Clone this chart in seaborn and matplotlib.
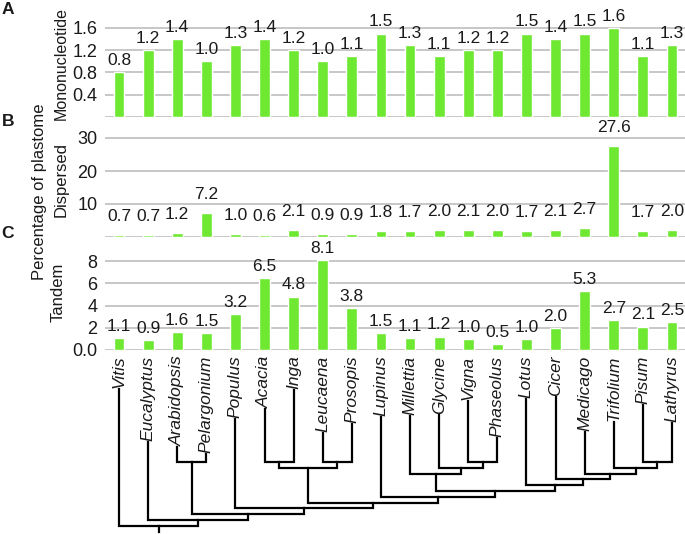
import matplotlib
matplotlib.use("Agg")
import matplotlib.pyplot as plt
import numpy as np
import pandas as pd
import seaborn as sns

# ---------------- data ----------------
taxa = ["Vitis", "Eucalyptus", "Arabidopsis", "Pelargonium", "Populus", "Acacia",
        "Inga", "Leucaena", "Prosopis", "Lupinus", "Millettia", "Glycine", "Vigna",
        "Phaseolus", "Lotus", "Cicer", "Medicago", "Trifolium", "Pisum", "Lathyrus"]
mononucleotide = [0.8, 1.2, 1.4, 1.0, 1.3, 1.4, 1.2, 1.0, 1.1, 1.5,
                  1.3, 1.1, 1.2, 1.2, 1.5, 1.4, 1.5, 1.6, 1.1, 1.3]
dispersed = [0.7, 0.7, 1.2, 7.2, 1.0, 0.6, 2.1, 0.9, 0.9, 1.8,
             1.7, 2.0, 2.1, 2.0, 1.7, 2.1, 2.7, 27.6, 1.7, 2.0]
tandem = [1.1, 0.9, 1.6, 1.5, 3.2, 6.5, 4.8, 8.1, 3.8, 1.5,
          1.1, 1.2, 1.0, 0.5, 1.0, 2.0, 5.3, 2.7, 2.1, 2.5]

ticks_a = [0, 0.4, 0.8, 1.2, 1.6]
ticklabels_a = ["", "0.4", "0.8", "1.2", "1.6"]
ticks_b = [0, 10, 20, 30]
ticklabels_b = ["", "10", "20", "30"]
ticks_c = [0, 2, 4, 6, 8]
ticklabels_c = ["0.0", "2", "4", "6", "8"]

# tree topology (cladogram)
papil_a = ("Millettia", ("Glycine", ("Vigna", "Phaseolus")))
papil_b = ("Lotus", ("Cicer", ("Medicago", ("Trifolium", ("Pisum", "Lathyrus")))))
papil = ("Lupinus", (papil_a, papil_b))
mimo = (("Acacia", "Inga"), ("Leucaena", "Prosopis"))
tree = ("Vitis", ("Eucalyptus", (("Arabidopsis", "Pelargonium"), ("Populus", (mimo, papil)))))

df = pd.DataFrame({"taxon": taxa, "Mononucleotide": mononucleotide,
                   "Dispersed": dispersed, "Tandem": tandem})

# ---------------- style ----------------
sns.set_style("white")
plt.rcParams["font.family"] = ["Liberation Sans", "DejaVu Sans"]
GREEN = "#6ee831"
GRID = "#bdbdbd"
TXT = "#1a1a1a"

W, H = 685, 534
fig = plt.figure(figsize=(W / 100, H / 100), dpi=100)
L = 104.5 / W
AW = 582 / W


def add_panel(zero_px, px_per_unit, ymax):
    bottom = (H - zero_px) / H
    height = ymax * px_per_unit / H
    ax = fig.add_axes([L, bottom, AW, height])
    ax.set_ylim(0, ymax)
    return ax


panels = [
    ("Mononucleotide", add_panel(117, 89 / 1.6, 1.7), ticks_a, ticklabels_a, 3),
    ("Dispersed", add_panel(237, 99 / 30, 31), ticks_b, ticklabels_b, 8),
    ("Tandem", add_panel(350, 89 / 8, 8.4), ticks_c, ticklabels_c, 3),
]

for i, (col, ax, ticks, tlabels, pad) in enumerate(panels):
    ymax = ax.get_ylim()[1]
    sns.barplot(data=df, x="taxon", y=col, color=GREEN, width=0.37,
                errorbar=None, saturation=1, ax=ax)
    ax.set_ylim(0, ymax)
    ax.set_xlim(-0.5, len(taxa) - 0.5)
    ax.set_yticks(ticks)
    ax.set_yticklabels(tlabels)
    ax.yaxis.grid(True, color=GRID, lw=1.2)
    ax.set_axisbelow(True)
    sns.despine(ax=ax, left=True, bottom=True)
    ax.tick_params(axis="y", length=0, pad=5, labelsize=13, labelcolor=TXT)
    ax.set_xlabel("")
    ax.set_ylabel("")
    vals = df[col].tolist()
    ax.bar_label(ax.containers[0], labels=[f"{v:.1f}" for v in vals],
                 padding=pad, fontsize=12.5, color=TXT)
    if i < 2:
        ax.tick_params(axis="x", length=0, labelbottom=False)
    else:
        ax.set_xticks(range(len(taxa)))
        ax.set_xticklabels(taxa, rotation=90, style="italic", fontsize=12.5,
                           color=TXT)
        ax.tick_params(axis="x", length=0, pad=4)
axC = panels[2][1]

# axis titles and panel letters
fig.text(61 / W, 1 - 63 / H, "Mononucleotide", rotation=90, ha="center",
         va="center", fontsize=11.5, color=TXT)
fig.text(61 / W, 1 - 180 / H, "Dispersed", rotation=90, ha="center",
         va="center", fontsize=12, color=TXT)
fig.text(58 / W, 1 - 292 / H, "Tandem", rotation=90, ha="center",
         va="center", fontsize=12, color=TXT)
fig.text(40 / W, 1 - 192 / H, "Percentage of plastome", rotation=90,
         ha="center", va="center", fontsize=12, color=TXT)
for letter, ypx in [("A", 10), ("B", 121), ("C", 234)]:
    fig.text(8 / W, 1 - ypx / H, letter, ha="center", va="center",
             fontsize=12.5, fontweight="bold", color=TXT)

# ---------------- tree ----------------
ax_t = fig.add_axes([L, 0, AW, 350 / H])
ax_t.set_xlim(-0.5, len(taxa) - 0.5)
ax_t.set_ylim(H, H - 350)
ax_t.axis("off")

fig.canvas.draw()
renderer = fig.canvas.get_renderer()
inv = ax_t.transData.inverted()
leaf_top = {}
for lbl in axC.get_xticklabels():
    bb = lbl.get_window_extent(renderer)
    leaf_top[lbl.get_text()] = inv.transform((bb.x0, bb.y0))[1] + 1

BASE, STEP = 462, 5.8


def depth(node):
    if isinstance(node, str):
        return 0
    return 1 + max(depth(c) for c in node)


def draw(node):
    if isinstance(node, str):
        return taxa.index(node), leaf_top[node]
    (xl, yl), (xr, yr) = draw(node[0]), draw(node[1])
    y = BASE + (depth(node) - 1) * STEP
    ax_t.plot([xl, xl, xr, xr], [yl, y, y, yr], color="black", lw=1.6,
              solid_joinstyle="miter", solid_capstyle="projecting")
    return (xl + xr) / 2, y


rx, ry = draw(tree)
ax_t.plot([rx, rx], [ry, ry + 6], color="black", lw=1.6,
          solid_capstyle="projecting")

fig.savefig("out.png", dpi=100)
